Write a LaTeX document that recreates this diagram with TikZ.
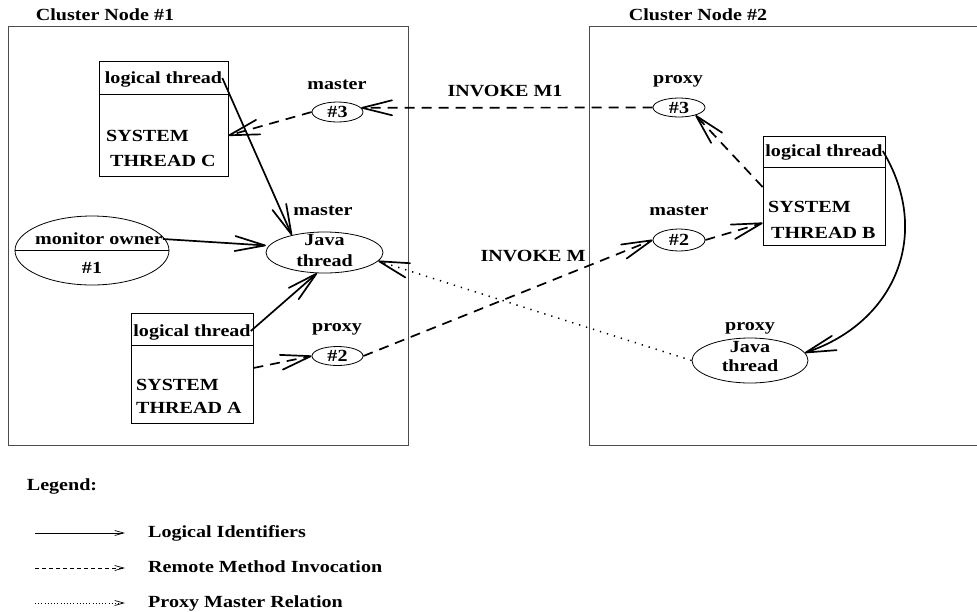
\documentclass[tikz,border=0pt]{standalone}
\usepackage{fontspec}
\setmainfont{Liberation Serif}[FakeStretch=1.18]
\usetikzlibrary{arrows.meta,shapes.geometric,calc}

\begin{document}
\begin{tikzpicture}[x=1pt,y=-1pt,
  every node/.style={font=\bfseries\fontsize{17}{20}\selectfont, inner sep=0pt,
                     text height=11pt, text depth=0pt},
  frame/.style={draw=black!70, line width=0.9pt},
  tbox/.style={draw, line width=0.8pt, rectangle},
  oval/.style={draw, line width=0.8pt, ellipse},
  link/.style={line width=1.7pt, -{Straight Barb[length=30pt,width=15pt,round]}},
  rmi/.style={link, dash pattern=on 10pt off 7pt},
  pmr/.style={line width=1.5pt, dash pattern=on 1.3pt off 6pt,
              -{Straight Barb[length=30pt,width=15pt,line width=1.7pt,round]}},
  keytip/.style={line width=0.7pt, -{Straight Barb[length=9pt,width=5pt]}}
]
\useasboundingbox (0,0) rectangle (977,611);

% cluster frames and their titles
\node[frame, minimum width=400pt, minimum height=419pt] (k1) at (208,235.5) {};
\draw[frame] (980,26) -- (589,26) -- (589,445) -- (980,445);
\node (c1) at (105,15) {Cluster Node \#1};
\node (c2) at (698,15) {Cluster Node \#2};

% system thread C
\node[tbox, minimum width=129pt, minimum height=115pt] (bC) at (163.5,118.5) {};
\draw[line width=0.8pt] ($(bC.north west)+(0,34)$) -- ($(bC.north east)+(0,34)$);
\node (ltC) at (163.5,78) {logical thread};
\node[anchor=west] (sC1) at (106,136) {SYSTEM};
\node[anchor=west] (sC2) at (110,161) {THREAD C};

% system thread A
\node[tbox, minimum width=122pt, minimum height=110pt] (bA) at (192,368) {};
\draw[line width=0.8pt] ($(bA.north west)+(0,33)$) -- ($(bA.north east)+(0,33)$);
\node (ltA) at (192,331) {logical thread};
\node[anchor=west] (sA1) at (136,385) {SYSTEM};
\node[anchor=west] (sA2) at (136,408) {THREAD A};

% system thread B
\node[tbox, minimum width=122pt, minimum height=109pt] (bB) at (824,190.5) {};
\draw[line width=0.8pt] ($(bB.north west)+(0,32)$) -- ($(bB.north east)+(0,32)$);
\node (ltB) at (824,151) {logical thread};
\node[anchor=west] (sB1) at (768,207) {SYSTEM};
\node[anchor=west] (sB2) at (771,233) {THREAD B};

% monitor owner
\node[oval, minimum width=154pt, minimum height=69pt] (mo) at (92,250.5) {};
\draw[line width=0.8pt] (mo.west) -- (mo.east);
\node (moT) at (99,239) {monitor owner};
\node (moN) at (92,268) {\#1};

% master Java thread
\node[oval, minimum width=117pt, minimum height=41pt] (jm) at (324.5,252.5) {};
\node (jmT1) at (324.5,240) {Java};
\node (jmT2) at (324.5,261) {thread};
\node (jmL) at (323,210) {master};

% master #3
\node[oval, minimum width=51pt, minimum height=20pt] (m3) at (337.5,112) {};
\node (m3T) at (m3) {\#3};
\node (m3L) at (337,84) {master};

% proxy #2 (node 1)
\node[oval, minimum width=51pt, minimum height=19pt] (p2) at (337.5,356) {};
\node (p2T) at (p2) {\#2};
\node (p2L) at (337,326) {proxy};

% proxy #3 (node 2)
\node[oval, minimum width=52pt, minimum height=19pt] (p3) at (679,107.5) {};
\node (p3T) at (p3) {\#3};
\node (p3L) at (678,78) {proxy};

% master #2 (node 2)
\node[oval, minimum width=52pt, minimum height=22pt] (m2) at (679,240) {};
\node (m2T) at (m2) {\#2};
\node (m2L) at (679,210) {master};

% proxy Java thread
\node[oval, minimum width=116pt, minimum height=45pt] (pj) at (750,360.5) {};
\node (pjT1) at (750,347) {Java};
\node (pjT2) at (750,366) {thread};
\node (pjL) at (750,325) {proxy};

% invocation labels
\node (inv1) at (505,91) {INVOKE M1};
\node (inv) at (533,256) {INVOKE M};

% logical identifiers
\draw[link] (ltC.east) -- (jm.152);
\draw[link, shorten >=3pt] (moT.east) -- (jm.173);
\draw[link] (ltA.east) -- (jm.250);
\draw[link] (ltB.east) .. controls +(50,83) and +(90,-30) .. (pj.8);

% remote method invocations
\draw[rmi] (m3.west) -- ($(bC.east)+(0,17)$);
\draw[rmi] (p3.west) -- (m3.10);
\draw[rmi] (bA.east) -- (p2.west);
\draw[rmi] (p2.east) -- (m2.west);
\draw[rmi] (m2.east) -- ($(bB.west)+(0,32.5)$);
\draw[rmi] ($(bB.west)+(0,-3.5)$) -- (p3.-25);

% proxy master relation
\draw[pmr] (pj.west) -- (jm.-9);

% legend
\node (lg) at (62,485) {Legend:};
\coordinate (s1) at (35,533); \coordinate (e1) at (125,533);
\coordinate (s2) at (35,568); \coordinate (e2) at (125,568);
\coordinate (s3) at (35,603); \coordinate (e3) at (125,603);
\draw[keytip] (s1) -- (e1);
\draw[keytip, dash pattern=on 4pt off 3pt] (s2) -- (e2);
\draw[keytip, dash pattern=on 0.9pt off 2.3pt] (s3) -- (e3);
\node[anchor=west] (L1) at (148,532) {Logical Identifiers};
\node[anchor=west] (L2) at (148,567) {Remote Method Invocation};
\node[anchor=west] (L3) at (148,602) {Proxy Master Relation};
\end{tikzpicture}
\end{document}
